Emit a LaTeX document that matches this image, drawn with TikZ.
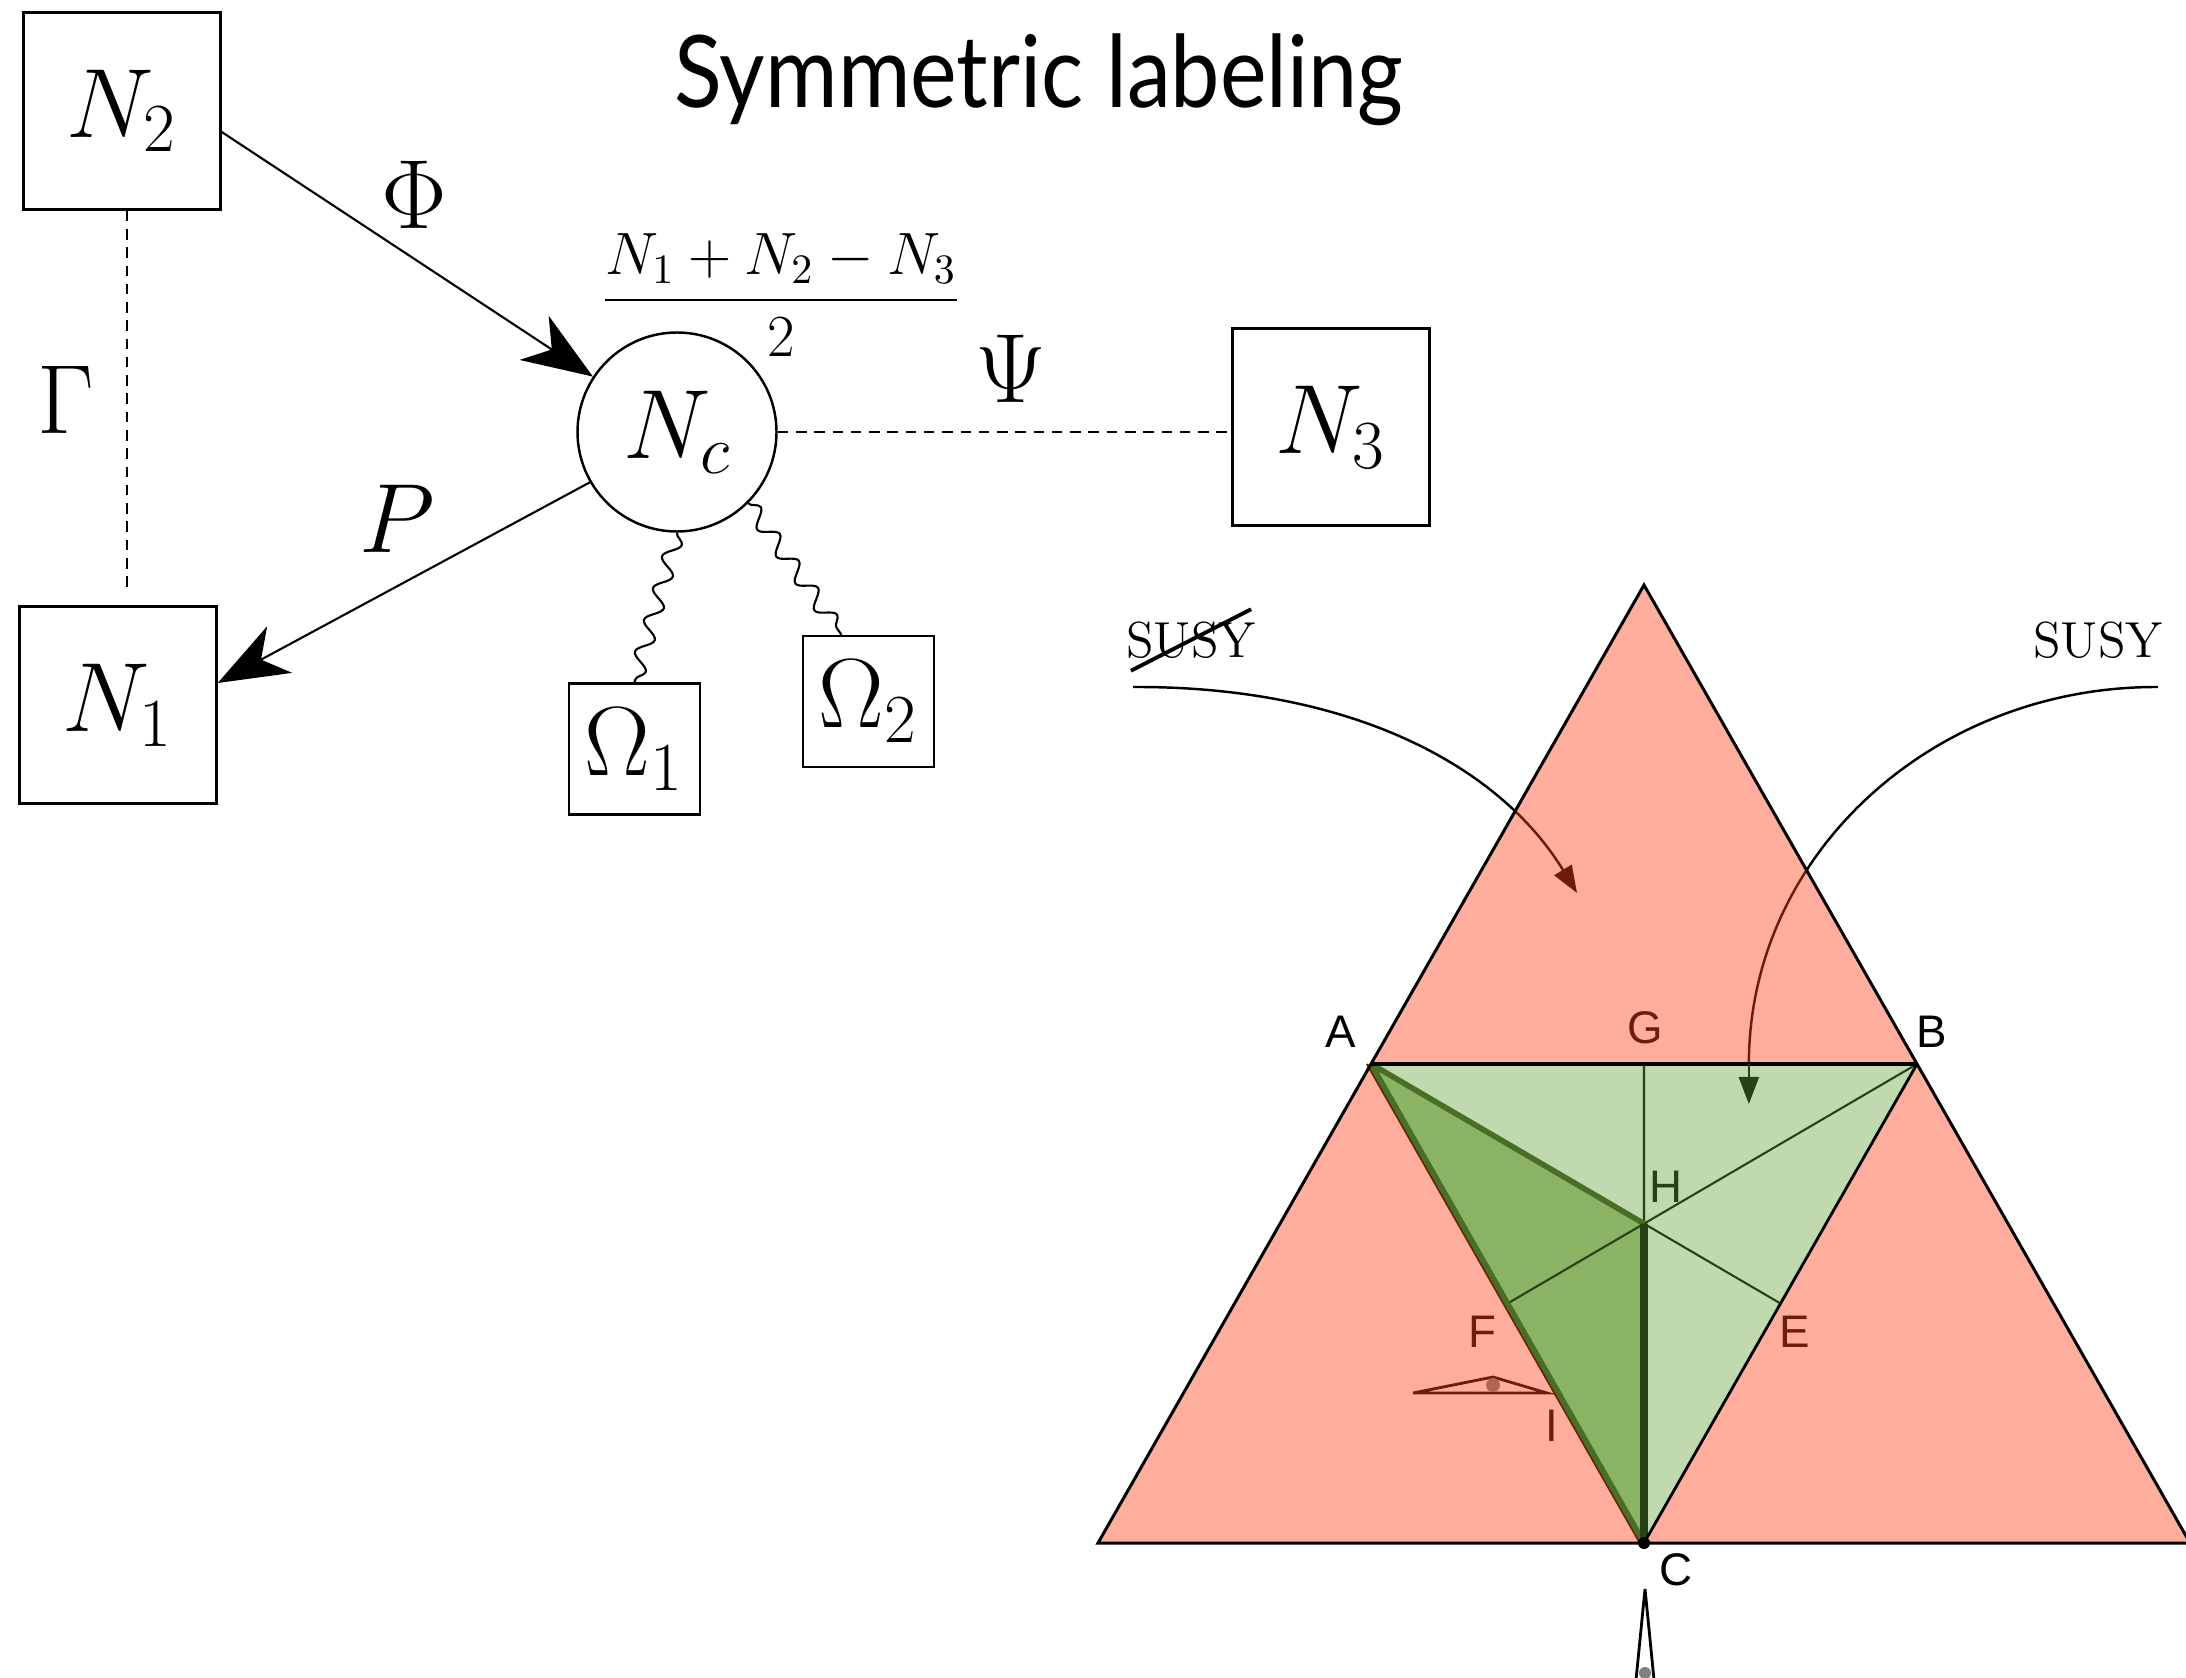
\RequirePackage{fix-cm}
\documentclass[tikz,border=0pt]{standalone}
\usepackage{fontspec}
\usepackage{amsmath}
\usepackage{xcolor}
\usepackage{tikz}
\usetikzlibrary{arrows.meta,calc,decorations.pathmorphing}

\newfontfamily\titlefont[FakeStretch=0.88]{Lato}
\newfontfamily\ptfont{Liberation Sans}

\definecolor{salmonred}{RGB}{255,64,28}
\definecolor{lightgreen}{RGB}{193,217,174}
\definecolor{midgreen}{RGB}{138,179,100}
\definecolor{edgegreen}{RGB}{72,112,36}
\definecolor{darkgreen}{RGB}{38,66,22}
\definecolor{darkbrown}{RGB}{107,30,10}
\definecolor{dotbrown}{RGB}{180,100,85}

\tikzset{
  sqbox/.style={draw, line width=0.7pt, minimum size=1.97cm, inner sep=0pt, font=\fontsize{28}{34}\selectfont},
  smallbox/.style={draw, line width=0.7pt, minimum size=1.31cm, inner sep=0pt, font=\fontsize{28}{34}\selectfont},
  gaugenode/.style={draw, circle, line width=0.7pt, minimum size=1.99cm, inner sep=0pt, font=\fontsize{28}{34}\selectfont},
  biglabel/.style={font=\fontsize{28}{33}\selectfont},
  flow/.style={line width=0.6pt, -{Stealth[length=20pt,width=15pt,inset=6pt]}},
  dashline/.style={line width=0.6pt, dash pattern=on 3pt off 2.2pt},
  wavy/.style={line width=0.6pt, decorate, decoration={snake, amplitude=0.8mm, segment length=3.3mm}},
  ptlabel/.style={font=\ptfont\fontsize{13}{15}\selectfont, inner sep=0pt},
  smalltip/.style={-{Triangle[length=7.7pt,width=5.7pt]}},
}

\begin{document}
\begin{tikzpicture}
\useasboundingbox (0,0) rectangle (21.86,-16.78);

% quiver
\node[font=\titlefont\fontsize{28.5}{33}\selectfont] (title) at (10.39,-0.80) {Symmetric labeling};
\node[sqbox] (N2) at (1.22,-1.11) {$N_2$};
\node[sqbox] (N1) at (1.18,-7.05) {$N_1$};
\node[sqbox] (N3) at (13.31,-4.27) {$N_3$};
\node[gaugenode] (Nc) at (6.77,-4.32) {$N_c$};
\node[smallbox] (O1) at (6.345,-7.49) {$\Omega_1$};
\node[smallbox] (O2) at (8.685,-7.015) {$\Omega_2$};
\node[font=\fontsize{17}{20}\selectfont] (rank) at (7.81,-2.95) {$\dfrac{N_1+N_2-N_3}{2}$};

\draw[flow] ([yshift=-2.1mm]N2.east) -- (Nc);
\draw[flow] (Nc.210) -- ([yshift=2.2mm]N1.east);
\draw[dashline, shorten >=1.4mm] ([xshift=0.5mm]N2.south) -- ([xshift=0.5mm]N2.south |- N1.north);
\draw[dashline] (Nc) -- (Nc -| N3.west);
\draw[wavy] (Nc.south) -- (O1.north);
\draw[wavy] (Nc.-45) -- ([xshift=-2.7mm]O2.north);

\node[biglabel] (phi) at (4.14,-1.95) {$\Phi$};
\node[biglabel] (gam) at (0.66,-4.00) {$\Gamma$};
\node[biglabel] (pp) at (3.97,-5.19) {$P$};
\node[biglabel] (psi) at (10.11,-3.69) {$\Psi$};

% triangles
\coordinate (T) at (16.44,-5.85);
\coordinate (L) at (10.98,-15.43);
\coordinate (R) at (21.90,-15.43);
\coordinate (A) at ($(L)!0.5!(T)$);
\coordinate (B) at ($(R)!0.5!(T)$);
\coordinate (C) at ($(L)!0.5!(R)$);
\coordinate (G) at ($(A)!0.5!(B)$);
\coordinate (H) at ($(G)!1/3!(C)$);
\coordinate (F) at ($(A)!0.5!(C)$);
\coordinate (E) at ($(B)!0.5!(C)$);
\coordinate (I) at ($(A)!0.727!(C)$);
\coordinate (tipR) at ($(A)!0.692!(B)$);

\node[font=\Large] (susyL) at (11.91,-6.40) {SUSY};
\node[font=\Large] (susyR) at (20.98,-6.40) {SUSY};
\draw[line width=1.1pt] ([xshift=1.7mm]susyL.south west) -- ([xshift=-1.7mm]susyL.north east);

\draw[line width=0.7pt, smalltip] (11.33,-6.87) .. controls (13.50,-6.86) and (14.99,-7.65) .. (15.77,-8.93);
\draw[line width=0.7pt] (21.58,-6.87) .. controls (19.34,-6.86) and (17.49,-8.53) .. (tipR);

\fill[salmonred, fill opacity=0.43] (T) -- (L) -- (R) -- cycle;
\fill[lightgreen] (A) -- (B) -- (C) -- cycle;
\fill[midgreen] (A) -- (H) -- (C) -- cycle;

\draw[darkgreen, line width=0.6pt] (G) -- (H) (B) -- (F) (H) -- (E);
\draw[darkbrown, line width=0.6pt] ([xshift=-0.4mm]A) -- ([xshift=-0.4mm]C);
\draw[edgegreen, line width=1.6pt] (A) -- (H) (A) -- (C);
\draw[darkgreen, line width=2.2pt] (H) -- (C);
\draw[line width=0.8pt] (B) -- (C);
\draw[white, double=black, double distance=0.9pt, line width=0.25pt] (A) -- (B);
\draw[line width=0.85pt, line join=miter] (T) -- (L) -- (R) -- cycle;
\draw[darkgreen, line width=0.7pt, smalltip] (tipR) -- ++(0,-0.40);
\fill (C) circle (0.06);

% small markers
\draw[darkbrown, line width=0.8pt] (14.13,-13.93) -- (14.93,-13.77) -- (15.47,-13.93) -- cycle;
\fill[dotbrown] (14.93,-13.85) circle (0.07);
\filldraw[fill=white, line width=0.8pt] (16.45,-15.89) -- (16.34,-17.00) -- (16.56,-17.00) -- cycle;
\fill[gray] (16.45,-16.73) circle (0.06);

\node[ptlabel] (lA) at ($(A)+(-0.30,0.32)$) {A};
\node[ptlabel] (lB) at ($(B)+(0.15,0.32)$) {B};
\node[ptlabel, darkbrown] (lG) at ($(G)+(0.01,0.36)$) {G};
\node[ptlabel, darkgreen] (lH) at ($(H)+(0.22,0.37)$) {H};
\node[ptlabel, darkbrown] (lF) at ($(F)+(-0.25,-0.28)$) {F};
\node[ptlabel, darkbrown] (lE) at ($(E)+(0.14,-0.28)$) {E};
\node[ptlabel, darkbrown] (lI) at ($(I)+(-0.18,-0.14)$) {I};
\node[ptlabel] (lC) at ($(C)+(0.32,-0.27)$) {C};
\end{tikzpicture}
\end{document}
